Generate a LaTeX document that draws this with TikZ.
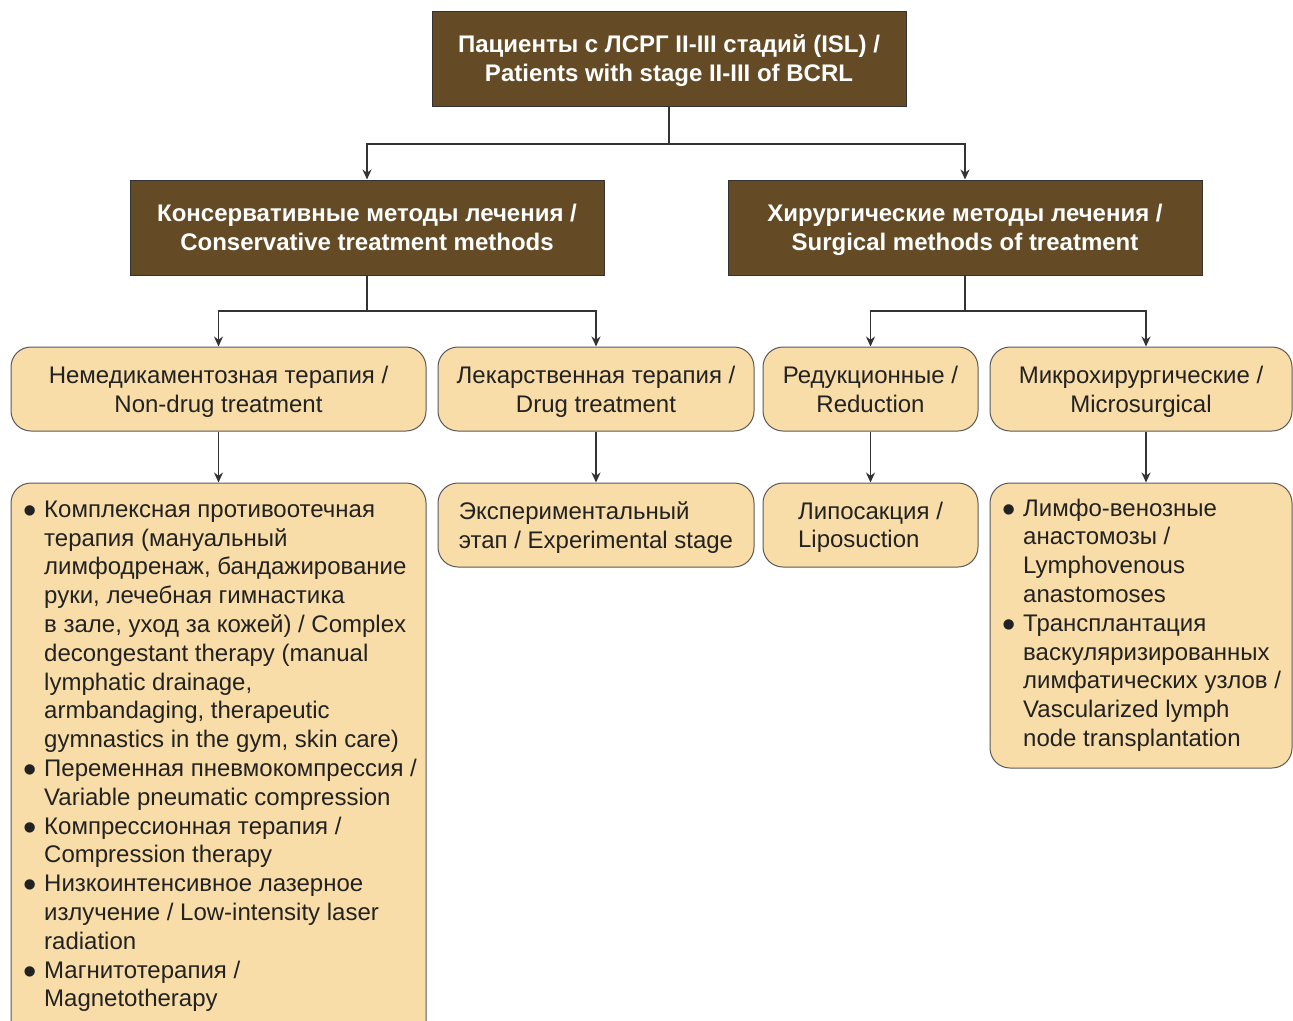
\documentclass[tikz,border=0pt]{standalone}
\usepackage{fontspec}
\setmainfont{Liberation Sans}
\usetikzlibrary{arrows.meta}
\definecolor{dbrown}{HTML}{644B25}
\definecolor{lfill}{HTML}{F9DDA8}
\definecolor{txt}{HTML}{222222}
\newcommand\bul{\llap{\raisebox{-6pt}{\fontsize{38}{38}\selectfont •}\hspace{7pt}}}
\begin{document}
\begin{tikzpicture}[x=1pt,y=-1pt,
  dark/.style={draw=black!80,line width=1pt,fill=dbrown,text=white,
    font=\fontsize{24}{29}\selectfont\bfseries,align=center,inner sep=0pt,
    minimum width=474pt,minimum height=95pt,text depth=-4pt},
  light/.style={draw=black!65,line width=1pt,fill=lfill,rounded corners=20pt,
    inner sep=0pt,text=txt,font=\fontsize{24}{29}\selectfont,align=center,text depth=0pt},
  ltext/.style={text=txt,font=\fontsize{24}{28.8}\selectfont,align=left,inner sep=0pt},
  conn/.style={draw=black!80,line width=1.3pt},
  arr/.style={conn,-{Stealth[length=10pt,width=9pt]}}]
\useasboundingbox (0,0) rectangle (1293,1020);
\clip (0,0) rectangle (1293,1020);
% level 1
\node[dark] (top) at (669,58.5) {Пациенты с ЛСРГ II-III стадий (ISL) /\\Patients with stage II-III of BCRL};
% level 2
\node[dark] (c2l) at (367,227.5) {Консервативные методы лечения /\\Conservative treatment methods};
\node[dark] (c2r) at (965,227.5) {Хирургические методы лечения /\\Surgical methods of treatment};
% level 3
\node[light,minimum width=415pt,minimum height=84pt] (a3) at (218.5,389) {Немедикаментозная терапия /\\Non-drug treatment};
\node[light,minimum width=316pt,minimum height=84pt] (b3) at (596,389) {Лекарственная терапия /\\Drug treatment};
\node[light,minimum width=215pt,minimum height=84pt] (c3) at (870.5,389) {Редукционные /\\Reduction};
\node[light,minimum width=302pt,minimum height=84pt] (d3) at (1141,389) {Микрохирургические /\\Microsurgical};
% level 4
\node[light,minimum width=415pt,minimum height=560pt] (a4) at (218.5,763) {};
\node[light,minimum width=316pt,minimum height=84pt,align=left,font=\fontsize{24}{28.5}\selectfont] (b4) at (596,525) {Экспериментальный\\этап / Experimental stage};
\node[light,minimum width=215pt,minimum height=84pt,align=left,font=\fontsize{24}{28.5}\selectfont] (c4) at (870.5,525) {Липосакция /\\Liposuction};
\node[light,minimum width=302pt,minimum height=285pt] (d4) at (1141,625.5) {};
\node[ltext,anchor=north west] (a4t) at (44,500.5) {\bul Комплексная противоотечная\\
терапия (мануальный\\
лимфодренаж, бандажирование\\
руки, лечебная гимнастика\\
в зале, уход за кожей) / Complex\\
decongestant therapy (manual\\
lymphatic drainage,\\
armbandaging, therapeutic\\
gymnastics in the gym, skin care)\\
\bul Переменная пневмокомпрессия /\\
Variable pneumatic compression\\
\bul Компрессионная терапия /\\
Compression therapy\\
\bul Низкоинтенсивное лазерное\\
излучение / Low-intensity laser\\
radiation\\
\bul Магнитотерапия /\\
Magnetotherapy};
\node[ltext,anchor=north west] (d4t) at (1023,498.5) {\bul Лимфо-венозные\\
анастомозы /\\
Lymphovenous\\
anastomoses\\
\bul Трансплантация\\
васкуляризированных\\
лимфатических узлов /\\
Vascularized lymph\\
node transplantation};
% connectors
\coordinate (j1) at (669,144);
\coordinate (j2) at (367,311);
\coordinate (j3) at (965,311);
\draw[conn] (top.south) -- (j1);
\draw[arr] (j1) -| (c2l.north);
\draw[arr] (j1) -| (c2r.north);
\draw[conn] (c2l.south) -- (j2);
\draw[arr] (j2) -| (a3.north);
\draw[arr] (j2) -| (b3.north);
\draw[conn] (c2r.south) -- (j3);
\draw[arr] (j3) -| (c3.north);
\draw[arr] (j3) -| ([xshift=5pt]d3.north);
\draw[arr] (a3.south) -- (a4.north);
\draw[arr] (b3.south) -- (b4.north);
\draw[arr] (c3.south) -- (c4.north);
\draw[arr] ([xshift=5pt]d3.south) -- ([xshift=5pt]d4.north);
\end{tikzpicture}
\end{document}
